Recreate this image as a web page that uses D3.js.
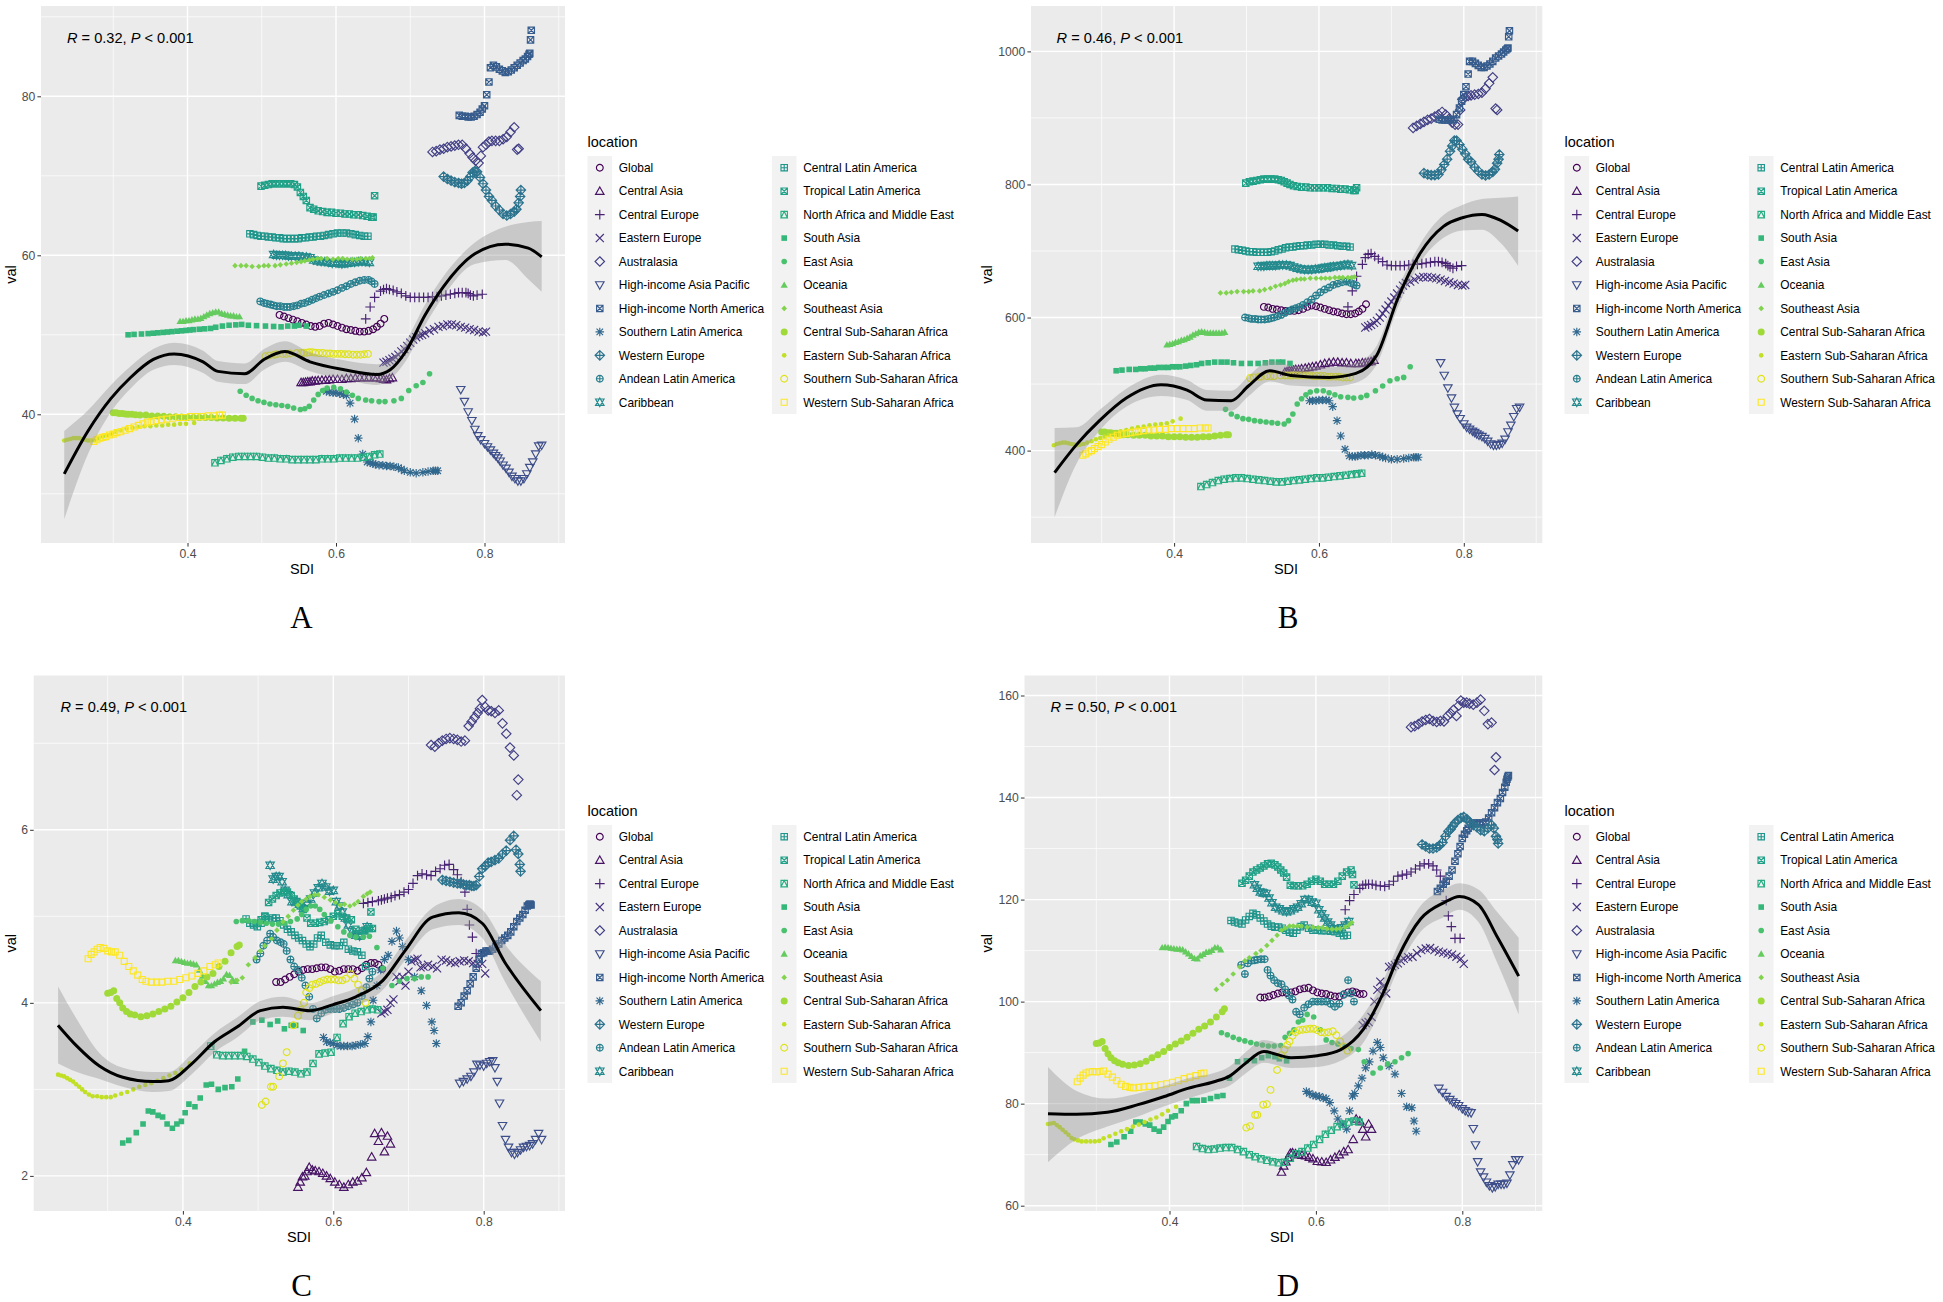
<!DOCTYPE html>
<html><head><meta charset="utf-8">
<script src="https://cdn.jsdelivr.net/npm/d3@7"></script>
<style>html,body{margin:0;padding:0;background:#fff}svg{display:block}text{font-family:"Liberation Sans",Arial,sans-serif}</style>
</head><body><svg id="c" width="1943" height="1302"></svg>
<script>
const locations=["Global","Central Asia","Central Europe","Eastern Europe","Australasia","High-income Asia Pacific","High-income North America","Southern Latin America","Western Europe","Andean Latin America","Caribbean","Central Latin America","Tropical Latin America","North Africa and Middle East","South Asia","East Asia","Oceania","Southeast Asia","Central Sub-Saharan Africa","Eastern Sub-Saharan Africa","Southern Sub-Saharan Africa","Western Sub-Saharan Africa"];
const xTicks=[0.4,0.6,0.8], xMinor=[0.3,0.5,0.7,0.9];

// Global
const sdiGlobal=[.524,.53,.536,.542,.548,.554,.56,.566,.572,.578,.584,.59,.596,.602,.608,.614,.62,.626,.632,.638,.644,.65,.655,.66,.665];
const aGlobal=[52.5,52.3,52.1,51.9,51.7,51.5,51.3,51.1,51,51.1,51.4,51.5,51.3,51.1,50.9,50.7,50.6,50.5,50.4,50.4,50.5,50.7,51,51.4,52];
const bGlobal=[616,615,613,612,611,610,610,610,611,613,616,618,617,615,613,611,609,608,606,605,605,606,609,613,620];
const cGlobal=[4.24,4.24,4.27,4.3,4.33,4.36,4.38,4.39,4.39,4.4,4.41,4.41,4.39,4.36,4.37,4.39,4.39,4.39,4.37,4.4,4.44,4.46,4.46,4.44,4.39];
const dGlobal=[100.8,100.8,101,101.3,101.6,101.8,101.7,101.8,102,102.4,102.6,102.7,102.2,101.8,101.6,101.5,101.2,101,101,101.4,101.8,102,101.8,101.5,101.5];
// Central Asia
const sdiCAsia=[.553,.556,.559,.562,.565,.568,.572,.576,.581,.586,.591,.596,.602,.608,.614,.62,.626,.632,.638,.644,.651,.655,.66,.664,.668,.672,.676];
const aCAsia=[44,44,44.05,44.1,44.1,44.2,44.2,44.25,44.3,44.3,44.35,44.4,44.4,44.4,44.5,44.5,44.55,44.6,44.6,44.6,44.6,44.6,44.5,44.4,44.35,44.5,44.6];
const bCAsia=[518,519,520,520,521,522,522,523,524,525,526,527,529,531,532,533,533,532,532,531,531,531,532,532,533,534,536];
const cCAsia=[1.87,1.93,1.99,2,2.05,2.1,2.07,2.06,2.05,2.03,2,1.97,1.93,1.9,1.87,1.9,1.93,1.94,1.98,2.04,2.22,2.49,2.4,2.5,2.28,2.46,2.37];
const dCAsia=[66.6,67.8,68.6,69.4,70.3,70.4,70.2,70,69.9,69.8,69.5,69.2,68.7,68.6,68.5,69,69.5,70,70.6,71,73,77,76.6,75,73.5,76,75];
// Central Europe
const sdiCEur=[.64,.646,.652,.66,.664,.668,.672,.677,.682,.688,.694,.7,.706,.712,.718,.724,.73,.736,.742,.748,.754,.76,.765,.77,.775,.778,.781,.785,.79,.797];
const aCEur=[52,53.5,54.7,55.5,55.7,55.8,55.7,55.6,55.4,55.2,54.9,54.7,54.7,54.7,54.7,54.7,54.8,54.8,54.9,55,55.1,55.2,55.3,55.3,55.3,55.2,55,54.9,55,55.1];
const bCEur=[616,640,662,680,690,695,696,692,688,684,679,678,678,678,678,679,680,680,681,682,683,684,684,683,681,678,676,674,677,678];
const cCEur=[5.15,5.16,5.17,5.18,5.19,5.2,5.21,5.22,5.24,5.25,5.28,5.31,5.38,5.47,5.49,5.48,5.47,5.52,5.55,5.59,5.6,5.54,5.48,5.4,5.28,5.08,4.9,4.76,4.57,4.55];
const dCEur=[118,119.8,121,122.2,122.8,123,123,123,122.8,122.7,122.6,122.9,123.6,124.6,124.8,125,125.4,126,126.6,127,127,126.6,125.8,124.6,123.4,119.8,116.8,114.7,112.4,112.4];
// Eastern Europe
const sdiEEur=[.664,.668,.672,.676,.68,.684,.688,.692,.696,.7,.704,.708,.712,.716,.72,.726,.732,.738,.744,.75,.756,.762,.768,.774,.78,.786,.792,.798,.802];
const aEEur=[46.5,46.6,46.8,47,47.2,47.5,47.9,48.2,48.6,49,49.4,49.7,49.9,50,50.2,50.5,50.7,51,51.1,51.3,51.3,51.2,51,50.9,50.7,50.6,50.4,50.3,50.4];
const bEEur=[585,587,589,592,595,600,606,612,618,624,630,636,642,648,652,654,657,660,661,661,660,659,657,655,653,651,649,648,649];
const cEEur=[3.88,3.9,3.92,4,4.04,4.3,4.25,4.3,4.2,4.36,4.48,4.5,4.51,4.41,4.42,4.44,4.42,4.4,4.5,4.49,4.47,4.46,4.48,4.49,4.48,4.46,4.45,4.45,4.34];
const dEEur=[95.4,95.8,96,97,100,102.3,103.9,103,101.6,106.8,106.9,107.2,107.5,108,108.4,108.7,108.8,109.5,110.1,110.4,110.5,110.1,109.8,109.6,109.4,109.2,108.8,108.4,107.4];
// Australasia
const sdiAus=[.73,.735,.74,.745,.75,.755,.76,.765,.77,.775,.78,.784,.788,.792,.795,.798,.802,.806,.81,.815,.82,.825,.83,.835,.84,.846,.844];
const aAus=[73,73.1,73.3,73.4,73.6,73.7,73.8,73.9,73.9,73.4,72.8,72.3,71.9,71.6,72.5,73.6,73.9,74.3,74.4,74.4,74.4,74.6,74.9,75.5,76.1,73.4,73.3];
const bAus=[885,888,891,894,897,899,902,905,909,905,899,893,890,890,912,928,931,933,934,935,936,938,944,952,961,912,914];
const cAus=[6.98,6.96,7,7.03,7.05,7.06,7.05,7.04,7.02,7.03,7.2,7.25,7.3,7.35,7.4,7.5,7.42,7.38,7.37,7.35,7.38,7.23,7.11,6.95,6.86,6.58,6.4];
const dAus=[153.8,154,154.4,154.9,155.2,155.4,155,154.8,155,154.9,156,156.5,157.2,156,158,159,158.6,158.6,158.4,158.2,158.6,159.2,157,154.4,154.7,147.9,145.4];
// High-income Asia Pacific
const sdiHiap=[.768,.773,.778,.783,.787,.791,.795,.8,.804,.808,.812,.815,.818,.821,.825,.829,.833,.837,.841,.845,.849,.853,.857,.861,.865,.869,.873,.877];
const aHiap=[43.1,41.6,40.3,39.2,38.1,37.3,36.8,36.3,35.9,35.5,35.1,34.8,34.5,34.1,33.6,33.2,32.7,32.2,31.9,31.6,31.6,31.9,32.5,33.3,34,35,36,36.1];
const bHiap=[532,513,494,479,465,455,448,440,435,432,429,427,425,423,421,418,414,410,408,408,409,411,417,428,438,451,463,465];
const cHiap=[3.07,3.09,3.12,3.15,3.2,3.29,3.28,3.27,3.3,3.32,3.33,3.25,3.09,2.84,2.58,2.42,2.33,2.27,2.25,2.27,2.3,2.33,2.34,2.35,2.37,2.42,2.49,2.42];
const dHiap=[83,82.2,81.4,80.8,80.3,80,79.6,79,78.6,78.3,78.2,75.1,71.9,68.6,66.6,65.6,64.6,63.9,63.5,63.7,64.2,64.2,64.2,64.4,66,68,69,69];
// High-income North America
const sdiHina=[.766,.77,.774,.778,.782,.786,.79,.794,.797,.8,.803,.806,.808,.812,.816,.82,.824,.828,.832,.836,.84,.844,.848,.852,.855,.858,.86,.861,.862,.863];
const aHina=[77.6,77.5,77.5,77.4,77.4,77.5,77.7,78,78.4,78.8,80.2,81.8,83.6,83.9,83.7,83.4,83.2,83,83.1,83.3,83.6,83.9,84.2,84.5,84.7,85,85.3,85.4,87.1,88.3];
const bHina=[898,897,897,897,897,898,905,915,925,935,947,966,985,985,982,979,976,976,978,981,985,990,993,996,999,1002,1004,1005,1022,1031];
const cHina=[3.96,4,4.08,4.14,4.22,4.3,4.4,4.5,4.57,4.58,4.6,4.6,4.6,4.62,4.65,4.68,4.72,4.75,4.78,4.82,4.88,4.94,4.98,5.02,5.07,5.12,5.13,5.14,5.14,5.13];
const dHina=[121.6,122.2,123,123.6,124.6,125.8,127.5,129,130.4,132,132.8,133.5,134,134.8,135,135,135,135,135.2,136,137,138,139,139.8,141,142,143,143.6,144,144.3];
// Southern Latin America
const sdiSlat=[.587,.591,.596,.6,.605,.61,.614,.619,.625,.63,.636,.642,.646,.65,.653,.658,.663,.668,.673,.678,.684,.688,.692,.7,.708,.717,.724,.731,.734,.737];
const aSlat=[42.9,42.8,42.7,42.7,42.6,42.5,42.4,41.4,39.4,37,35,34,33.9,33.8,33.7,33.6,33.6,33.5,33.5,33.4,33.3,33.1,32.9,32.7,32.6,32.7,32.8,32.9,32.9,32.9];
const bSlat=[475,475,475,476,476,476,475,466,445,422,402,392,391,391,392,393,393,393,394,393,392,390,389,387,387,388,389,390,390,390];
const cSlat=[3.6,3.55,3.54,3.53,3.51,3.5,3.5,3.5,3.5,3.51,3.52,3.53,3.61,3.78,4.03,4.2,4.38,4.5,4.55,4.71,4.83,4.75,4.65,4.5,4.3,4.14,3.97,3.78,3.68,3.53];
const dSlat=[82.4,82,81.7,81.5,81.4,81.1,81,80.2,78.6,77,76,75,78.6,81.5,82,83.5,85,87,88.2,90.3,92,91,89,87.4,85.8,82,79.4,79.2,76.6,74.6];
// Western Europe
const sdiWEur=[.745,.75,.755,.76,.765,.769,.773,.777,.781,.784,.787,.79,.794,.798,.802,.806,.81,.815,.82,.825,.83,.835,.84,.843,.846,.848,.849];
const aWEur=[69.9,69.6,69.4,69.2,69.1,69,69.1,69.4,69.9,70.4,70.6,70.5,69.8,69,68.2,67.4,66.9,66.2,65.7,65.2,65,65.2,65.5,65.8,66.6,67.4,68.2];
const bWEur=[817,815,814,814,815,822,830,838,850,858,866,866,860,853,846,838,834,826,820,815,813.5,815,819,823,832,838,845];
const cWEur=[5.42,5.41,5.4,5.39,5.38,5.38,5.37,5.36,5.36,5.35,5.35,5.36,5.46,5.55,5.58,5.62,5.63,5.65,5.67,5.72,5.76,5.88,5.93,5.77,5.72,5.6,5.52];
const dWEur=[130.8,130.4,130,130,130.2,130.6,131.2,132.4,133.4,133.8,134.4,135,135.6,136,136.2,135.8,135.2,134.6,134.2,133.6,133.4,134,134.6,134,132.4,131.8,131];
// Andean Latin America
const sdiAnd=[.498,.503,.507,.512,.516,.52,.525,.53,.534,.538,.543,.548,.553,.558,.563,.568,.573,.578,.584,.59,.596,.602,.608,.614,.62,.626,.632,.638,.644,.648,.652];
const aAnd=[54.2,54,53.9,53.8,53.7,53.6,53.6,53.5,53.5,53.5,53.6,53.7,53.9,54,54.2,54.4,54.6,54.8,55,55.2,55.4,55.6,55.9,56.1,56.4,56.6,56.8,56.9,56.9,56.7,56.4];
const bAnd=[600,599,598,598,597,597,597,598,599,600,602,604,607,610,612,614,616,619,623,627,633,638,642,645,649,651,653,654,652,650,648];
const cAnd=[4.5,4.57,4.66,4.72,4.8,4.76,4.72,4.7,4.68,4.6,4.5,4.42,4.38,4.29,4.2,4.07,3.93,3.82,3.88,3.92,3.93,3.93,3.93,3.94,3.96,3.98,4,4.08,4.18,4.28,4.36];
const dAnd=[107.2,105.4,107.5,108,108.1,108.2,108.3,108.3,106.2,105.1,104.2,103.6,103.4,102.4,101.2,100.4,98,97.5,98.8,99.5,100,100,100,100,99.6,99,99.6,101.4,104.2,101.6,100];
// Caribbean
const sdiCar=[.516,.52,.524,.528,.532,.536,.54,.545,.55,.555,.56,.565,.57,.575,.58,.585,.59,.595,.6,.604,.608,.612,.616,.62,.625,.63,.635,.64,.645];
const aCar=[60.1,60,60,60,60,59.9,59.9,59.9,59.9,59.8,59.8,59.7,59.4,59.3,59.2,59.2,59.1,59,59,59,58.9,59,59,59.1,59.1,59.2,59.2,59.2,59.1];
const bCar=[677,677,677,678,678,678,678,679,679,679,678,676,674,673,672,672,672,673,673,674,675,675,676,677,677,678,679,680,678];
const cCar=[5.59,5.43,5.46,5.46,5.4,5.3,5.25,5.17,5.17,5.14,5.09,5.15,5.2,5.27,5.33,5.38,5.34,5.29,5.3,5.17,5.12,5.05,4.98,4.9,4.82,4.78,4.77,4.83,4.88];
const dCar=[122.9,122.2,121.5,121.3,121.2,120.3,119.4,118.5,118.2,117.8,117.6,117.8,118.2,118.5,119.2,120,120,119.5,119.3,118,117.2,116.4,115.6,115,114.3,114.2,114.5,115,115.7];
// Central Latin America
const sdiClat=[.484,.489,.494,.499,.504,.509,.514,.519,.524,.529,.534,.539,.544,.549,.554,.559,.564,.569,.574,.579,.584,.59,.596,.602,.608,.614,.62,.626,.632,.638,.643];
const aClat=[62.7,62.6,62.5,62.4,62.4,62.3,62.3,62.2,62.2,62.1,62.1,62.1,62.1,62.1,62.2,62.2,62.3,62.3,62.4,62.4,62.5,62.6,62.7,62.8,62.8,62.8,62.7,62.6,62.5,62.4,62.4];
const bClat=[703,702,701,700,699,699,698,698,698,698,699,700,702,703,705,706,706,707,708,708,709,709,710,710,710,709,709,708,707,707,706];
const cClat=[4.97,4.92,4.9,4.88,4.92,5,4.96,4.98,4.98,4.95,4.9,4.85,4.82,4.78,4.75,4.72,4.68,4.65,4.68,4.75,4.78,4.7,4.67,4.66,4.66,4.7,4.62,4.6,4.59,4.55,4.42];
const dClat=[115.9,115.6,115.4,115.2,116,116.7,117.3,117,116.4,115.8,115.2,114.8,114.6,114.6,114.4,114,113.6,113.4,114,114.7,115,114.4,114,114,113.9,113.9,113.8,113.7,113.4,112.9,113];
// Tropical Latin America
const sdiTlat=[.499,.504,.509,.514,.519,.524,.529,.534,.539,.544,.548,.552,.556,.56,.565,.57,.576,.582,.588,.594,.6,.606,.612,.618,.624,.63,.636,.642,.648,.65,.652];
const aTlat=[68.7,68.8,68.9,69,69,69,69,69,69,68.9,68.6,67.9,67.4,66.9,66,65.8,65.6,65.5,65.4,65.4,65.3,65.3,65.2,65.2,65.1,65.1,65,64.9,64.8,64.8,67.5];
const bTlat=[802,804,805,806,807,808,808,808,808,807,806,804,802,800,798,797,796,796,795,795,795,795,795,794,794,793,793,792,791,791,795];
const cTlat=[4.92,4.96,5,5.16,5.2,5.24,5.27,5.28,5.28,5.24,5.2,5.16,5.12,5.08,4.98,4.92,4.92,4.93,4.94,4.96,5,5.03,5,4.97,4.96,4.85,4.8,4.84,4.86,5.05,4.86];
const dTlat=[123.2,123.8,124.6,125.4,125.8,126.2,126.6,127,127.1,126.8,126.4,125.8,125.2,124.4,122.8,122.7,122.7,122.7,123,123.6,124,123.6,123,123,123,123.6,124.6,125.4,125.8,124.9,122.9];
// North Africa and Middle East
const sdiName=[.437,.445,.453,.461,.469,.477,.485,.493,.501,.509,.517,.525,.533,.541,.549,.557,.565,.573,.581,.589,.597,.605,.613,.621,.629,.637,.645,.652,.659];
const aName=[33.9,34.2,34.4,34.6,34.7,34.7,34.7,34.7,34.6,34.5,34.5,34.4,34.4,34.3,34.3,34.3,34.3,34.3,34.4,34.4,34.4,34.5,34.5,34.5,34.5,34.6,34.7,34.9,35];
const bName=[346,349,352,355,357,358,359,359,358,357,356,355,354,353,353,354,355,356,357,358,359,359,360,361,362,363,364,365,366];
const cName=[3.5,3.4,3.39,3.39,3.39,3.39,3.38,3.35,3.31,3.27,3.24,3.22,3.2,3.21,3.2,3.18,3.2,3.3,3.41,3.42,3.43,3.6,3.76,3.84,3.88,3.9,3.92,3.93,3.92];
const dName=[71.6,71.2,71,71.1,71.3,71.4,71.4,71,70.6,70,69.6,69.2,68.9,68.6,68.4,68.5,69.3,70.2,70.6,71.3,72,73,74,74.8,75.5,76,76.4,76.6,76.4];
// South Asia
const sdiSAsia=[.32,.328,.338,.347,.354,.36,.367,.373,.379,.386,.392,.398,.403,.408,.416,.423,.431,.438,.447,.456,.465,.473,.482,.493,.505,.516,.526,.535,.544,.55,.56];
const aSAsia=[50,50.05,50.1,50.15,50.2,50.25,50.3,50.35,50.4,50.45,50.5,50.55,50.6,50.65,50.7,50.75,50.8,50.95,51.1,51.2,51.25,51.3,51.2,51.15,51.1,51.05,51,51.1,51.1,51.2,51.1];
const bSAsia=[520,521,522,522,523,523,524,524,525,525,525,526,526,526,527,528,529,531,532,533,533,533,532,531,531,531,532,533,533,533,531];
const cSAsia=[2.38,2.41,2.5,2.6,2.75,2.74,2.7,2.68,2.6,2.55,2.6,2.63,2.73,2.83,2.8,2.9,3.05,3.06,3,3.02,3.03,3.12,3.44,3.78,3.8,3.75,3.79,3.7,3.74,3.74,3.68];
const dSAsia=[72,72.5,73.5,74.6,76.4,76.4,76,75.8,75,74.6,75.4,76.5,77.4,77.6,78.6,80,80.6,80.6,80.7,81,81.4,81.6,85,88.2,88.4,88.4,89,89.4,89.2,88.8,88.4];
// East Asia
const sdiEAsia=[.471,.479,.487,.495,.503,.511,.519,.527,.535,.543,.552,.558,.564,.57,.576,.582,.588,.597,.606,.614,.622,.63,.64,.648,.658,.666,.678,.688,.698,.708,.717,.726];
const aEAsia=[42.9,42.4,42,41.7,41.5,41.3,41.2,41.1,41,40.8,40.6,40.7,41,41.8,42.5,43,43.3,43.4,43.2,42.8,42.4,42,41.8,41.7,41.6,41.6,41.7,42,43,43.6,44,45.1];
const bEAsia=[462,455,451,448,447,445,444,443,442,441,440,445,455,470,478,484,488,490,490,487,484,481,480,479,480,483,490,497,505,508,510,526];
const cEAsia=[4.94,4.95,4.95,4.94,4.93,4.92,4.91,4.91,4.92,4.94,4.97,5.02,5.08,5.12,5.12,5.08,5.02,4.95,4.88,4.82,4.78,4.76,4.76,4.77,4.64,4.4,4.2,4.25,4.28,4.28,4.3,4.3];
const dEAsia=[93.9,93.5,93,92.6,92.3,92,91.7,91.5,91.3,91.3,91.4,93,93.8,94.5,96,96.4,97.5,97,94.5,92.5,92,91.7,91.2,90.8,90.6,88.2,86,87,87.8,88.2,89,89.8];
// Oceania
const sdiOce=[.39,.394,.398,.402,.406,.41,.414,.418,.422,.426,.43,.434,.438,.442,.446,.45,.454,.458,.462,.466,.47];
const aOce=[51.7,51.7,51.8,51.8,51.9,52,52,52.1,52.3,52.5,52.7,52.8,52.9,52.9,52.7,52.6,52.5,52.4,52.4,52.3,52.3];
const bOce=[559,560,561,563,564,566,567,569,571,574,576,578,579,578,577,577,577,577,577,577,578];
const cOce=[4.49,4.49,4.48,4.47,4.46,4.46,4.45,4.44,4.38,4.31,4.25,4.2,4.2,4.22,4.24,4.25,4.28,4.33,4.32,4.27,4.25];
const dOce=[110.6,110.7,110.6,110.5,110.4,110.3,110.3,110.2,109.8,109.4,108.9,108.5,108.4,109,109.3,109.7,109.8,110.1,110.6,110.6,110.2];
// Southeast Asia
const sdiSeAsia=[.464,.472,.479,.487,.496,.503,.509,.518,.525,.533,.54,.547,.553,.558,.564,.569,.575,.58,.588,.596,.603,.609,.615,.622,.628,.633,.64,.645,.649];
const aSeAsia=[58.7,58.7,58.7,58.6,58.6,58.7,58.7,58.7,58.8,58.9,59,59.1,59.2,59.3,59.4,59.5,59.6,59.6,59.6,59.5,59.6,59.6,59.5,59.5,59.5,59.6,59.6,59.6,59.7];
const bSeAsia=[637,637,638,639,639,639,640,640,642,644,647,649,651,654,656,657,658,658,659,659,659,659,659,660,660,660,660,660,661];
const cSeAsia=[4.24,4.26,4.29,4.44,4.52,4.6,4.66,4.74,4.84,4.94,5,5.07,5.13,5.17,5.2,5.23,5.25,5.25,5.22,5.19,5.16,5.13,5.14,5.12,5.14,5.17,5.23,5.26,5.28];
const dSeAsia=[102.4,103.4,104.2,105.4,106.8,108,108.6,109.4,110,111,112,113,114,114.4,114.8,114.8,114.8,114.8,114.6,114.6,114.5,114.5,114.3,114.2,114.2,114.3,114.6,115,115.5];
// Central Sub-Saharan Africa
const sdiCssa=[.3,.304,.308,.312,.316,.32,.325,.33,.336,.344,.352,.36,.368,.376,.384,.392,.4,.408,.416,.424,.432,.44,.448,.456,.464,.472,.475];
const aCssa=[40.2,40.2,40.1,40.1,40.05,40,40,39.95,39.9,39.9,39.8,39.8,39.75,39.7,39.7,39.65,39.6,39.6,39.6,39.6,39.6,39.55,39.55,39.5,39.5,39.5,39.5];
const bCssa=[428,428,427,427,426,426,425,424,424,423,423,423,422,422,422,421,421,421,420,420,420,421,421,422,423,424,424];
const cCssa=[4.11,4.12,4.14,4.05,4,3.94,3.9,3.87,3.86,3.84,3.85,3.87,3.9,3.93,3.96,4.01,4.06,4.12,4.19,4.24,4.3,4.34,4.42,4.48,4.58,4.65,4.67];
const dCssa=[91.8,91.9,92.2,90.8,89.8,89,88.4,88,87.7,87.5,87.6,87.8,88.3,89,89.6,90.2,91,91.7,92.3,93,93.8,94.6,95.2,96,97,98,98.6];
// Eastern Sub-Saharan Africa
const sdiEssa=[.234,.238,.242,.246,.25,.254,.258,.262,.266,.27,.275,.28,.286,.292,.298,.304,.31,.318,.326,.334,.342,.35,.358,.366,.374,.382,.39,.398,.409];
const aEssa=[36.7,36.8,36.9,37,37,37,36.9,36.8,36.7,36.7,36.8,37,37.2,37.4,37.6,37.8,38,38.2,38.3,38.4,38.5,38.5,38.6,38.6,38.7,38.7,38.8,38.8,38.9];
const bEssa=[408,410,411,412,412,411,410,409,408,409,410,412,414,417,419,421,423,426,429,431,433,435,436,438,439,440,441,444,448];
const cEssa=[3.17,3.16,3.15,3.13,3.11,3.09,3.06,3.03,3,2.97,2.94,2.92,2.92,2.91,2.91,2.91,2.93,2.95,2.97,3,3.03,3.05,3.07,3.1,3.13,3.16,3.19,3.23,3.3];
const dEssa=[76,76.1,76.2,75.8,75.4,74.9,74.4,73.9,73.3,73,72.8,72.6,72.6,72.6,72.6,72.7,73.2,73.6,74.1,74.6,75,75.5,75.9,76.4,76.9,77.3,77.9,78.6,79.4];
// Southern Sub-Saharan Africa
const sdiSssa=[.505,.51,.517,.52,.528,.533,.538,.547,.553,.557,.561,.564,.568,.572,.577,.582,.587,.592,.597,.602,.607,.612,.617,.623,.628,.633,.638,.643];
const aSssa=[47.3,47.4,47.5,47.55,47.6,47.6,47.65,47.7,47.7,47.75,47.75,47.8,47.8,47.75,47.7,47.7,47.65,47.65,47.6,47.6,47.6,47.55,47.55,47.5,47.5,47.5,47.55,47.6];
const bSssa=[509,510,511,511,512,512,512,513,513,513,513,513,513,513,513,513,513,512,512,512,512,511,511,511,511,510,510,510];
const cSssa=[2.82,2.86,3.03,3.03,3.15,3.3,3.43,3.74,3.85,3.92,4,4.12,4.17,4.21,4.22,4.24,4.26,4.27,4.27,4.27,4.26,4.26,4.28,4.33,4.28,4.21,4.14,4];
const dSssa=[75.3,75.6,77.8,77.8,79.8,79.9,82.7,86.6,89.5,90.6,91.5,92.2,93.3,94,94.4,94.5,94.6,94.7,94.7,94.4,94,93.9,94,94.2,93.4,92.2,91.2,90.4];
// Western Sub-Saharan Africa
const sdiWssa=[.274,.278,.282,.286,.29,.295,.3,.305,.31,.316,.322,.328,.334,.34,.346,.351,.358,.365,.372,.38,.388,.396,.404,.412,.42,.428,.436,.443,.447];
const aWssa=[36.6,36.8,37,37.1,37.2,37.4,37.5,37.7,37.8,38,38.2,38.4,38.6,38.8,39,39.1,39.2,39.3,39.4,39.5,39.6,39.6,39.7,39.7,39.7,39.8,39.8,39.9,39.9];
const bWssa=[393,395,398,400,403,406,409,413,417,420,423,425,426,427,428,429,430,431,431,432,432,433,433,433,433,433,434,434,434];
const cWssa=[4.51,4.56,4.59,4.62,4.64,4.63,4.6,4.59,4.59,4.55,4.48,4.42,4.37,4.32,4.27,4.25,4.24,4.24,4.24,4.25,4.25,4.27,4.29,4.31,4.34,4.37,4.42,4.44,4.46];
const dWssa=[84.3,85,85.6,86,86.2,86.3,86.2,86.3,86.4,85.8,85.2,84.5,83.8,83.4,83.2,83.1,83.2,83.3,83.4,83.5,83.7,83.9,84.2,84.5,84.9,85.2,85.5,85.9,86];

// smooth fits
const fitSdiA=[.234,.266,.297,.323,.354,.382,.421,.441,.477,.503,.531,.565,.611,.655,.673,.694,.72,.745,.787,.828,.859,.877];
const fitA=[32.5,37.9,42,44.6,46.9,47.6,46.6,45.4,45.1,46.9,47.9,46.6,45.6,45,45.6,47.9,52.5,56.1,60.2,61.4,60.9,59.8];
const fitLoA=[26.8,35,40.3,43.2,45.6,46.2,45.2,44.1,43.8,45.6,46.6,45.4,44.4,43.7,44.4,46.7,51.2,54.9,58.9,59.4,57,55.4];
const fitHiA=[37.9,40.5,43.7,46,48.2,49,48,46.7,46.4,48.2,49.2,47.8,46.8,46.3,46.9,49.2,53.8,57.4,61.6,63.6,64.2,64.3];
const fitSdiB=[.235,.265,.297,.334,.382,.418,.445,.479,.503,.532,.561,.614,.651,.68,.709,.74,.772,.798,.825,.851,.875];
const fitB=[367,408.6,445,479,499,491,476,475,497.5,520,513,510,516,543.6,629,697,737,750,755,746,730];
const fitLoB=[300,380,430,466,482,476,460,460,482,504,498,496,502,530,615,683,720,731,732,712,678];
const fitHiB=[434,435,461,493,514,506,491,490,512,535,528,525,532,558,643,711,754,769,778,780,782];
const fitSdiC=[.234,.259,.289,.32,.36,.381,.411,.442,.472,.503,.533,.569,.6,.63,.666,.696,.732,.767,.798,.828,.876];
const fitC=[3.74,3.5,3.27,3.14,3.09,3.1,3.29,3.55,3.72,3.91,3.95,3.91,3.98,4.07,4.26,4.61,4.99,5.04,4.92,4.47,3.91];
const fitLoC=[3.3,3.2,3.12,3.03,2.97,2.98,3.17,3.43,3.6,3.8,3.84,3.8,3.88,3.96,4.15,4.5,4.85,4.9,4.75,4.25,3.55];
const fitHiC=[4.19,3.81,3.42,3.25,3.2,3.2,3.4,3.65,3.83,4.02,4.07,4,4.08,4.17,4.37,4.72,5.1,5.2,5.08,4.68,4.25];
const fitSdiD=[.234,.273,.315,.357,.393,.425,.461,.482,.503,.529,.566,.602,.634,.665,.691,.712,.743,.775,.796,.822,.848,.877];
const fitD=[78,77.9,78.3,79.8,81.4,83,84.3,85.4,87.8,90.2,89,89.4,90.6,94.6,101.4,108.6,116.2,119.4,120.6,119,112.6,105];
const fitLoD=[68.5,73,75.5,77.5,79.5,81,82.6,83.5,85.8,88,87,87.2,88.4,92,99.2,106.3,113.7,116.6,118,115.6,107.5,97.5];
const fitHiD=[87.2,82.5,81,82,83.5,85,86,87.3,90,92.5,91.2,91.4,93,97.5,103.8,111,118.8,122,123.2,122,117.5,112.5];

const sdiAll=[sdiGlobal,sdiCAsia,sdiCEur,sdiEEur,sdiAus,sdiHiap,sdiHina,sdiSlat,sdiWEur,sdiAnd,sdiCar,sdiClat,sdiTlat,sdiName,sdiSAsia,sdiEAsia,sdiOce,sdiSeAsia,sdiCssa,sdiEssa,sdiSssa,sdiWssa];
const valsA=[aGlobal,aCAsia,aCEur,aEEur,aAus,aHiap,aHina,aSlat,aWEur,aAnd,aCar,aClat,aTlat,aName,aSAsia,aEAsia,aOce,aSeAsia,aCssa,aEssa,aSssa,aWssa];
const valsB=[bGlobal,bCAsia,bCEur,bEEur,bAus,bHiap,bHina,bSlat,bWEur,bAnd,bCar,bClat,bTlat,bName,bSAsia,bEAsia,bOce,bSeAsia,bCssa,bEssa,bSssa,bWssa];
const valsC=[cGlobal,cCAsia,cCEur,cEEur,cAus,cHiap,cHina,cSlat,cWEur,cAnd,cCar,cClat,cTlat,cName,cSAsia,cEAsia,cOce,cSeAsia,cCssa,cEssa,cSssa,cWssa];
const valsD=[dGlobal,dCAsia,dCEur,dEEur,dAus,dHiap,dHina,dSlat,dWEur,dAnd,dCar,dClat,dTlat,dName,dSAsia,dEAsia,dOce,dSeAsia,dCssa,dEssa,dSssa,dWssa];

const panels=[
 {id:"A",r:"0.32",vals:valsA,fitX:fitSdiA,fit:fitA,lo:fitLoA,hi:fitHiA,L:41,R:565,T:6,B:543,xd:[187.5,484.5],yv:[40,80],yp:[414.3,96.3],yt:[40,60,80],ym:[30,50,70,90],tx:67,ty:38.3,sx:302,vx:10.7,lx:301.5,ly:628,gx:587.5,gy:147},
 {id:"B",r:"0.46",vals:valsB,fitX:fitSdiB,fit:fitB,lo:fitLoB,hi:fitHiB,L:1031,R:1542.3,T:6,B:543,xd:[1174.1,1463.8],yv:[400,1000],yp:[450.6,51.4],yt:[400,600,800,1000],ym:[300,500,700,900],tx:1056.6,ty:38.3,sx:1286,vx:987,lx:1288,ly:628,gx:1564.5,gy:147},
 {id:"C",r:"0.49",vals:valsC,fitX:fitSdiC,fit:fitC,lo:fitLoC,hi:fitHiC,L:33.7,R:565,T:675.5,B:1211,xd:[182.9,483.7],yv:[2,6],yp:[1175.9,829.8],yt:[2,4,6],ym:[3,5,7],tx:60.5,ty:706.5,sx:299,vx:10.7,lx:301.5,ly:1296,gx:587.5,gy:816},
 {id:"D",r:"0.50",vals:valsD,fitX:fitSdiD,fit:fitD,lo:fitLoD,hi:fitHiD,L:1024.5,R:1542.3,T:675.5,B:1211,xd:[1169.5,1462.3],yv:[60,160],yp:[1205.7,695.5],yt:[60,80,100,120,140,160],ym:[70,90,110,130,150],tx:1050.5,ty:706.5,sx:1282,vx:987,lx:1288,ly:1296,gx:1564.5,gy:816}
];

const svg=d3.select("#c");
const color=i=>d3.interpolateViridis(i/21);

function markPath(i){
 const r=3.4,h=r*1.25;
 const sq=s=>`M${-s},${-s}H${s}V${s}H${-s}Z`;
 const circ=s=>`M${-s},0A${s},${s} 0 1,0 ${s},0A${s},${s} 0 1,0 ${-s},0Z`;
 const diam=s=>`M0,${-s}L${s},0L0,${s}L${-s},0Z`;
 const up=`M0,${-h}L${h},${h*.75}H${-h}Z`, dn=`M0,${h}L${h},${-h*.75}H${-h}Z`;
 const plus=s=>`M${-s},0H${s}M0,${-s}V${s}`, ex=s=>`M${-s},${-s}L${s},${s}M${s},${-s}L${-s},${s}`;
 switch(i){
  case 0:return circ(r);
  case 1:return up;
  case 2:return plus(h+.6);
  case 3:return ex(h-.2);
  case 4:return diam(h+.5);
  case 5:return dn;
  case 6:return sq(r-.2)+ex(r-.2);
  case 7:return plus(h)+ex(h-1);
  case 8:return diam(h+.5)+plus(h+.5);
  case 9:return circ(r)+plus(r);
  case 10:return up+dn;
  case 11:return sq(r-.2)+plus(r-.2);
  case 12:return sq(r-.2)+ex(r-.2);
  case 13:return sq(r-.2)+`M0,${-r+.2}L${r-.2},${r-.2}H${-r+.2}Z`;
  case 14:return sq(2.8);
  case 15:return circ(2.8);
  case 16:return `M0,${-3.6}L3.6,2.8H-3.6Z`;
  case 17:return diam(2.8);
  case 18:return circ(3.5);
  case 19:return circ(2.3);
  case 20:return circ(3.4);
  default:return sq(3);
 }
}
const isFilled=i=>i>=14&&i<=19;
function drawMark(g,i,xp,yp){
 g.append("path").attr("d",markPath(i)).attr("transform",`translate(${xp},${yp})`)
  .attr("fill",isFilled(i)?color(i):"none").attr("stroke",isFilled(i)?"none":color(i)).attr("stroke-width",1.15);
}

panels.forEach(p=>{
 const x=d3.scaleLinear().domain([.4,.8]).range(p.xd);
 const y=d3.scaleLinear().domain(p.yv).range(p.yp);
 const g=svg.append("g");
 g.append("rect").attr("x",p.L).attr("y",p.T).attr("width",p.R-p.L).attr("height",p.B-p.T).attr("fill","#ebebeb");
 xMinor.forEach(v=>{g.append("line").attr("x1",x(v)).attr("x2",x(v)).attr("y1",p.T).attr("y2",p.B).attr("stroke","#fff").attr("stroke-width",.7)});
 p.ym.forEach(v=>{g.append("line").attr("y1",y(v)).attr("y2",y(v)).attr("x1",p.L).attr("x2",p.R).attr("stroke","#fff").attr("stroke-width",.7)});
 xTicks.forEach(v=>{g.append("line").attr("x1",x(v)).attr("x2",x(v)).attr("y1",p.T).attr("y2",p.B).attr("stroke","#fff").attr("stroke-width",1.4)});
 p.yt.forEach(v=>{g.append("line").attr("y1",y(v)).attr("y2",y(v)).attr("x1",p.L).attr("x2",p.R).attr("stroke","#fff").attr("stroke-width",1.4)});

 const clipId="clip"+p.id;
 g.append("clipPath").attr("id",clipId).append("rect").attr("x",p.L).attr("y",p.T).attr("width",p.R-p.L).attr("height",p.B-p.T);
 const marks=g.append("g").attr("clip-path",`url(#${clipId})`);
 sdiAll.forEach((sd,i)=>{
  const vs=p.vals[i],n=Math.min(sd.length,vs.length);
  const gm=marks.append("g").attr("class","loc");
  d3.range(n).forEach(k=>drawMark(gm,i,x(sd[k]),y(vs[k])));
 });
 const idx=d3.range(p.fitX.length);
 const area=d3.area().x(k=>x(p.fitX[k])).y0(k=>y(p.lo[k])).y1(k=>y(p.hi[k])).curve(d3.curveMonotoneX);
 const line=d3.line().x(k=>x(p.fitX[k])).y(k=>y(p.fit[k])).curve(d3.curveMonotoneX);
 marks.append("path").attr("d",area(idx)).attr("fill","#999").attr("fill-opacity",.42);
 marks.append("path").attr("d",line(idx)).attr("fill","none").attr("stroke","#000").attr("stroke-width",3);

 // axes
 const ax=g.append("g").attr("transform",`translate(0,${p.B})`).call(d3.axisBottom(x).tickValues(xTicks).tickFormat(d3.format(".1f")).tickSize(3.6).tickPadding(3));
 const ay=g.append("g").attr("transform",`translate(${p.L},0)`).call(d3.axisLeft(y).tickValues(p.yt).tickFormat(d3.format("d")).tickSize(3.6).tickPadding(2));
 [ax,ay].forEach(a=>{a.select(".domain").remove();a.selectAll("line").attr("stroke","#333").attr("stroke-width",1);a.selectAll("text").attr("fill","#4d4d4d").attr("font-size",12.2).attr("font-family",'"Liberation Sans",Arial,sans-serif')});

 g.append("text").attr("x",p.sx).attr("y",p.B+31).attr("text-anchor","middle").attr("font-size",14.5).attr("fill","#000").text("SDI");
 g.append("text").attr("transform",`translate(${p.vx+5},${(p.T+p.B)/2}) rotate(-90)`).attr("text-anchor","middle").attr("font-size",14.5).attr("fill","#000").text("val");

 const t=g.append("text").attr("x",p.tx).attr("y",p.ty+5).attr("font-size",14.6).attr("fill","#000");
 t.append("tspan").attr("font-style","italic").text("R");
 t.append("tspan").text(` = ${p.r}, `);
 t.append("tspan").attr("font-style","italic").text("P");
 t.append("tspan").text(" < 0.001");

 g.append("text").attr("x",p.lx).attr("y",p.ly).attr("text-anchor","middle").attr("font-size",31).attr("fill","#000").style("font-family",'"Liberation Serif","Times New Roman",serif').text(p.id);

 // legend
 const lg=g.append("g");
 lg.append("text").attr("x",p.gx).attr("y",p.gy).attr("font-size",14.5).attr("fill","#000").text("location");
 const rowH=23.45,keyW=24.6,colGap=184.4;
 [0,1].forEach(c=>lg.append("rect").attr("x",p.gx+c*colGap).attr("y",p.gy+9).attr("width",keyW).attr("height",rowH*11).attr("fill","#f2f2f2"));
 locations.forEach((name,i)=>{
  const c=i<11?0:1,r=i<11?i:i-11;
  const cx=p.gx+c*colGap+keyW/2,cy=p.gy+9+rowH*(r+.5);
  drawMark(lg,i,cx,cy);
  lg.append("text").attr("x",p.gx+c*colGap+31.3).attr("y",cy+4.3).attr("font-size",11.9).attr("fill","#000").text(name);
 });
});
</script></body></html>
